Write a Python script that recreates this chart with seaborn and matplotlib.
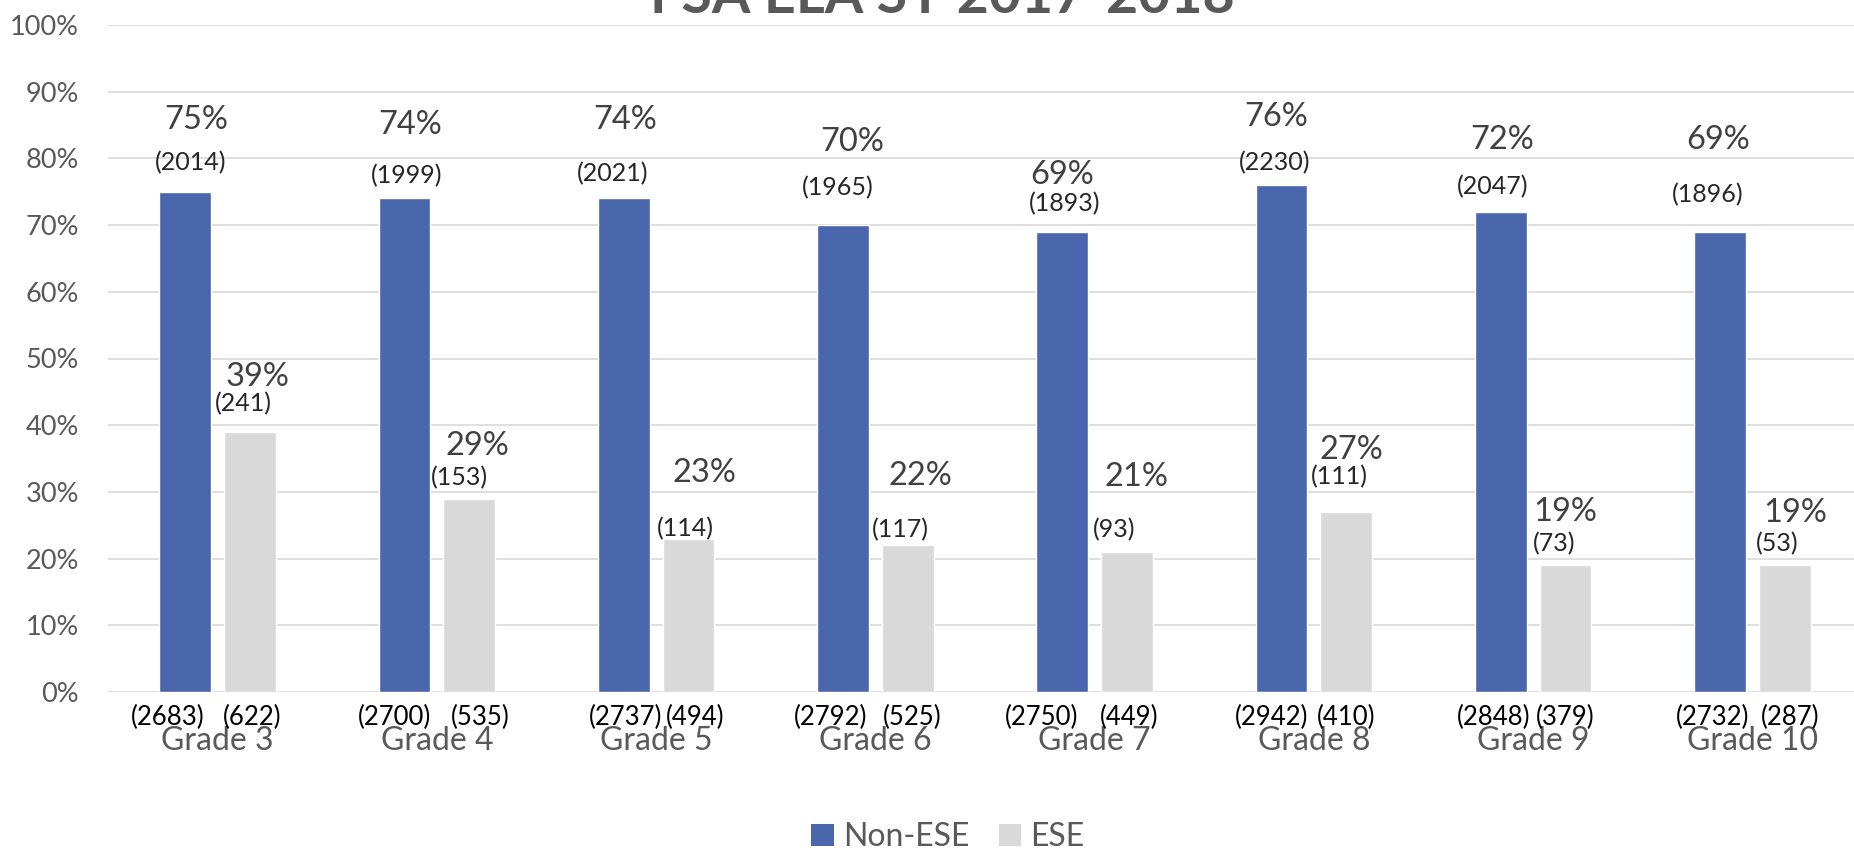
import numpy as np
import pandas as pd
import matplotlib
matplotlib.use('Agg')
import matplotlib.pyplot as plt
import seaborn as sns
from matplotlib.patches import Patch
from matplotlib.ticker import FuncFormatter

grades = ['Grade 3', 'Grade 4', 'Grade 5', 'Grade 6', 'Grade 7', 'Grade 8', 'Grade 9', 'Grade 10']
groups = ['Non-ESE', 'ESE']
non_ese_pct = [75, 74, 74, 70, 69, 76, 72, 69]
ese_pct = [39, 29, 23, 22, 21, 27, 19, 19]
non_ese_passed = [2014, 1999, 2021, 1965, 1893, 2230, 2047, 1896]
ese_passed = [241, 153, 114, 117, 93, 111, 73, 53]
non_ese_tested = [2683, 2700, 2737, 2792, 2750, 2942, 2848, 2732]
ese_tested = [622, 535, 494, 525, 449, 410, 379, 287]
y_ticks = [0, 10, 20, 30, 40, 50, 60, 70, 80, 90, 100]

# hand placed label nudges from the original (pixels)
pct_lift = {'Non-ESE': [72, 73, 78, 83, 57, 68, 72, 92], 'ESE': [55, 53, 66, 69, 75, 62, 53, 52]}
pct_shift = {'Non-ESE': [11, 6, 1, 9, 0, -5, 1, -2], 'ESE': [8, 8, 16, 13, 9, 5, 0, 11]}
cnt_lift = {'Non-ESE': [29, 23, 25, 37, 28, 22, 25, 37], 'ESE': [28, 21, 10, 16, 22, 35, 22, 22]}
cnt_shift = {'Non-ESE': [5, 2, -11, -5, 2, -7, -8, -12], 'ESE': [-7, -10, -3, -7, -13, -7, -11, -8]}
base_shift = {'Non-ESE': [-18, -10, 2, -12, -21, -10, -7, -7], 'ESE': [2, 11, 7, 4, 2, 0, 0, 5]}

BLUE = '#4A66AC'
GREY = '#D9D9D9'
TXT = '#595959'

sns.set_theme(style='white')
plt.rcParams['font.family'] = ['Lato', 'DejaVu Sans']

df = pd.DataFrame({
    'grade': grades * 2,
    'group': ['Non-ESE'] * len(grades) + ['ESE'] * len(grades),
    'pct': non_ese_pct + ese_pct,
})
passed = {'Non-ESE': non_ese_passed, 'ESE': ese_passed}
tested = {'Non-ESE': non_ese_tested, 'ESE': ese_tested}

W, H = 1854, 850
fig = plt.figure(figsize=(W / 100, H / 100), dpi=100)
ax = fig.add_axes([108 / W, (H - 692) / H, 1754 / W, 667 / H])

sns.barplot(data=df, x='grade', y='pct', hue='group', order=grades, hue_order=groups,
            palette={'Non-ESE': BLUE, 'ESE': GREY}, saturation=1, width=0.59, gap=0.2,
            legend=False, ax=ax)

ax.set_ylim(0, 100)
ax.set_xlim(-0.5, 7.5)
ax.set_yticks(y_ticks)
ax.yaxis.set_major_formatter(FuncFormatter(lambda v, p: f'{v:.0f}%'))
ax.grid(axis='y', color='#D9D9D9', linewidth=1.2)
ax.set_axisbelow(True)
for s in ax.spines.values():
    s.set_visible(False)
ax.set_xlabel('')
ax.set_ylabel('')
ax.tick_params(axis='y', length=0, pad=21, labelsize=19.5, labelcolor=TXT)
ax.tick_params(axis='x', length=0, pad=35, labelsize=23, labelcolor=TXT)
for lab in ax.get_xticklabels():
    lab.set_va('center')

for cont, g in zip(ax.containers, groups):
    for i, bar in enumerate(cont):
        xc = bar.get_x() + bar.get_width() / 2
        top = bar.get_height()
        ax.annotate(f'{top:.0f}%', (xc, top), xytext=(pct_shift[g][i], pct_lift[g][i]),
                    textcoords='offset pixels', ha='center', va='center',
                    fontsize=23.5, color='#404040')
        ax.annotate(f'({passed[g][i]})', (xc, top), xytext=(cnt_shift[g][i], cnt_lift[g][i]),
                    textcoords='offset pixels', ha='center', va='center',
                    fontsize=18, color='#262626')
        ax.annotate(f'({tested[g][i]})', (xc, 0), xytext=(base_shift[g][i], -25),
                    textcoords='offset pixels', ha='center', va='center',
                    fontsize=18.5, color='black', annotation_clip=False)

fig.text(942 / W, 1 - 13 / H, 'FSA ELA SY 2017-2018', ha='center', va='baseline',
         fontsize=40, fontweight='bold', color=TXT)

handles = [Patch(facecolor=BLUE, edgecolor='none'), Patch(facecolor=GREY, edgecolor='none')]
fig.legend(handles, groups, loc='center', bbox_to_anchor=(948 / W, 1 - 837 / H), ncol=2,
           frameon=False, fontsize=23, handlelength=0.7, handleheight=0.7,
           handletextpad=0.3, columnspacing=0.9, labelcolor=TXT)

fig.savefig('out.png', dpi=100)
